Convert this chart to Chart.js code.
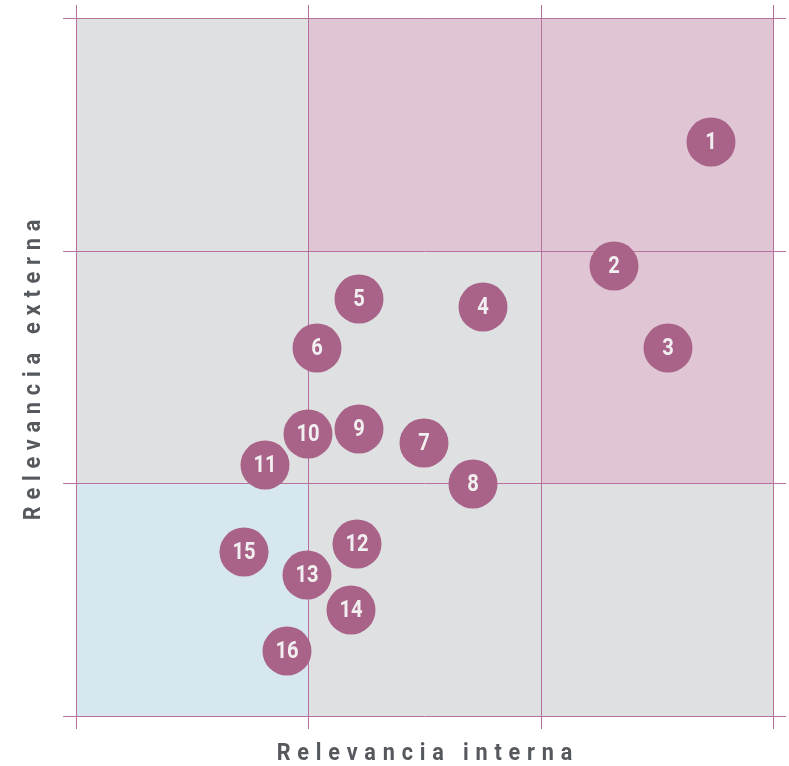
<!DOCTYPE html>
<html>
<head>
<meta charset="utf-8">
<script src="https://cdn.jsdelivr.net/npm/chart.js@4.4.1/dist/chart.umd.min.js"></script>
<style>
  html, body { margin: 0; padding: 0; background: #ffffff; }
  #wrap { width: 789px; height: 766px; }
</style>
</head>
<body>
<div id="wrap"><canvas id="c" width="789" height="766"></canvas></div>
<script>
// ---- Data ----
const categories = ['1','2','3','4','5','6','7','8','9','10','11','12','13','14','15','16'];
const internalRelevance = [2.735, 2.314, 2.547, 1.753, 1.216, 1.037, 1.497, 1.710, 1.216, 1.000, 0.813, 1.209, 0.994, 1.183, 0.723, 0.908];
const externalRelevance = [2.468, 1.934, 1.581, 1.759, 1.791, 1.583, 1.173, 0.999, 1.234, 1.211, 1.078, 0.738, 0.608, 0.454, 0.707, 0.281];
const tickValues = [0, 1, 2, 3];
const xTitle = 'Relevancia interna';
const yTitle = 'Relevancia externa';

// ---- Styles ----
const BUBBLE_COLOR = '#a96389';
const GRID_COLOR = '#b6729d';
const TITLE_COLOR = '#55585d';
const CELL_GREY = '#dfe0e2';
const CELL_PINK = '#e0c6d5';
const CELL_BLUE = '#d7e7ef';
// rows from top to bottom, columns left to right
const cellColors = [
  [CELL_GREY, CELL_PINK, CELL_PINK],
  [CELL_GREY, CELL_GREY, CELL_PINK],
  [CELL_BLUE, CELL_GREY, CELL_GREY]
];

const points = categories.map((c, i) => ({ x: internalRelevance[i], y: externalRelevance[i], r: 24.5 }));

const cellPlugin = {
  id: 'cells',
  beforeDraw(chart) {
    const { ctx, scales } = chart;
    const xs = scales.x, ys = scales.y;
    const n = tickValues.length - 1;
    ctx.save();
    for (let row = 0; row < n; row++) {
      for (let col = 0; col < n; col++) {
        const x0 = xs.getPixelForValue(tickValues[col]);
        const x1 = xs.getPixelForValue(tickValues[col + 1]);
        const yTop = ys.getPixelForValue(tickValues[n - row]);
        const yBot = ys.getPixelForValue(tickValues[n - row - 1]);
        ctx.fillStyle = cellColors[row][col];
        ctx.fillRect(x0, yTop, x1 - x0, yBot - yTop);
      }
    }
    ctx.restore();
  }
};

const labelPlugin = {
  id: 'bubbleLabels',
  afterDatasetsDraw(chart) {
    const { ctx } = chart;
    const meta = chart.getDatasetMeta(0);
    ctx.save();
    ctx.fillStyle = '#f2eff1';
    ctx.font = 'bold 24px "Roboto", sans-serif';
    ctx.textAlign = 'center';
    ctx.textBaseline = 'middle';
    meta.data.forEach((el, i) => {
      ctx.save();
      ctx.translate(el.x, el.y + 1);
      ctx.scale(0.84, 1);
      ctx.fillText(categories[i], 0, 0);
      ctx.restore();
    });
    ctx.restore();
  }
};

const titlePlugin = {
  id: 'axisTitles',
  afterDraw(chart) {
    const { ctx, chartArea } = chart;
    const spacing = 7.6, sx = 0.9;
    ctx.save();
    ctx.fillStyle = TITLE_COLOR;
    ctx.font = 'bold 24px "Roboto", sans-serif';
    ctx.letterSpacing = spacing + 'px';
    ctx.textAlign = 'center';
    ctx.textBaseline = 'middle';
    const cx = (chartArea.left + chartArea.right) / 2;
    ctx.save();
    ctx.translate(cx + spacing * sx / 2, chartArea.bottom + 38);
    ctx.scale(sx, 1);
    ctx.fillText(xTitle, 0, 0);
    ctx.restore();
    ctx.save();
    ctx.translate(chartArea.left - 42, (chartArea.top + chartArea.bottom) / 2 + 3);
    ctx.rotate(-Math.PI / 2);
    ctx.scale(sx, 1);
    ctx.fillText(yTitle, spacing / 2, 0);
    ctx.restore();
    ctx.restore();
  }
};

function axis(position, onArea) {
  return {
    type: 'linear',
    position: position,
    min: tickValues[0],
    max: tickValues[tickValues.length - 1],
    alignToPixels: true,
    afterBuildTicks: s => { s.ticks = tickValues.map(v => ({ value: v })); },
    ticks: { display: false },
    grid: { color: GRID_COLOR, lineWidth: 1, tickLength: 13, drawOnChartArea: onArea, drawTicks: true },
    border: { display: false }
  };
}

new Chart(document.getElementById('c'), {
  type: 'bubble',
  data: {
    datasets: [{
      data: points,
      backgroundColor: BUBBLE_COLOR,
      borderWidth: 0,
      hoverBorderWidth: 0,
      clip: false
    }]
  },
  options: {
    responsive: false,
    animation: false,
    devicePixelRatio: 1,
    layout: { autoPadding: false, padding: { left: 63, top: 5, right: 3, bottom: 37 } },
    plugins: { legend: { display: false }, tooltip: { enabled: false } },
    scales: {
      x: axis('bottom', true),
      x2: axis('top', false),
      y: axis('left', true),
      y2: axis('right', false)
    }
  },
  plugins: [cellPlugin, labelPlugin, titlePlugin]
});
</script>
</body>
</html>
